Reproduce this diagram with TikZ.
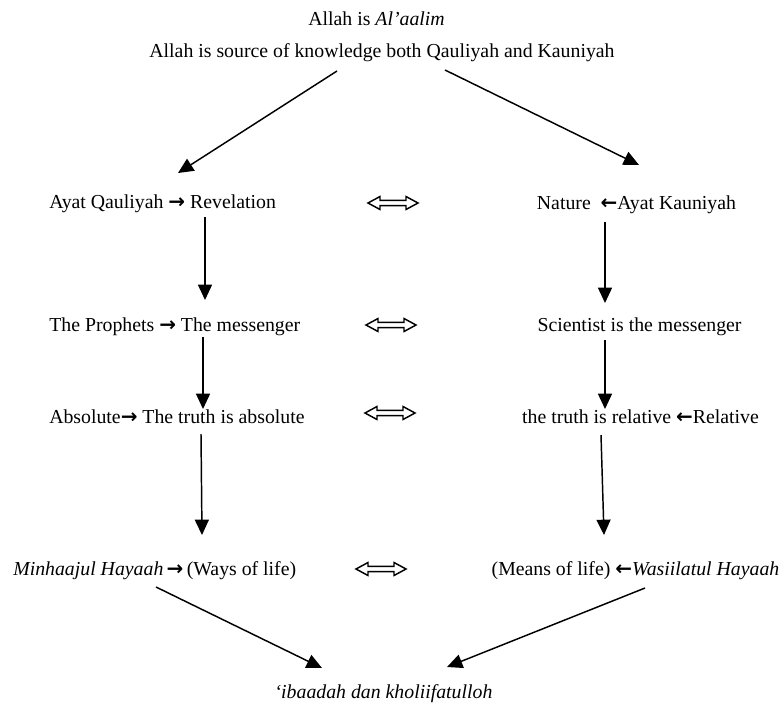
\documentclass[tikz,border=0pt]{standalone}
\usepackage{fontspec}
\setmainfont{Liberation Serif}
\newfontfamily\symfont{DejaVu Sans}
\usetikzlibrary{arrows.meta}
\newcommand{\rarr}{{\symfont\bfseries\fontsize{15}{18}\selectfont →}}
\newcommand{\larr}{{\symfont\bfseries\fontsize{15}{18}\selectfont ←}}
\begin{document}
\begin{tikzpicture}[x=0.75pt,y=-0.75pt,
  lbl/.style={inner sep=0pt, font=\fontsize{14.85}{18}\selectfont},
  arr/.style={line width=1.1pt, -{Triangle[length=11.5pt,width=10.5pt]}},
  dblarrow/.pic={\draw[line width=1.1pt, line join=miter, fill=white]
     (0,0) -- (12,-6.5) -- (12,-2.6) -- (38,-2.6) -- (38,-6.5) -- (50,0)
     -- (38,6.5) -- (38,2.6) -- (12,2.6) -- (12,6.5) -- cycle;}]
\useasboundingbox (0,0) rectangle (784,704);
% texts
\node[lbl, anchor=base] (t1) at (376.5,25) {Allah is \textit{Al’aalim}};
\node[lbl, anchor=base] (t2) at (382,57) {Allah is source of knowledge both Qauliyah and Kauniyah};
\node[lbl, anchor=base west] (ayat) at (49,208) {Ayat Qauliyah \rarr{} Revelation};
\node[lbl, anchor=base] (nature) at (636.5,209) {Nature \ \larr Ayat Kauniyah};
\node[lbl, anchor=base west] (proph) at (49,331) {The Prophets \rarr{} The messenger};
\node[lbl, anchor=base] (scient) at (639.5,331) {Scientist is the messenger};
\node[lbl, anchor=base west] (absol) at (49,423) {Absolute\rarr{} The truth is absolute};
\node[lbl, anchor=base] (relat) at (640.5,423) {the truth is relative \larr Relative};
\node[lbl, anchor=base west] (minh) at (13,575) {\textit{Minhaajul Hayaah}\,\rarr\,(Ways of life)};
\node[lbl, anchor=base] (means) at (635.5,575) {(Means of life) \larr\textit{Wasiilatul Hayaah}};
\node[lbl, anchor=base] (ibad) at (383.5,698) {\textit{‘ibaadah dan kholiifatulloh}};
% connector end points
\coordinate (t2l) at (337,71);   \coordinate (ayatin) at (178,173);
\coordinate (t2r) at (445,70);   \coordinate (naturein) at (639,165);
\coordinate (ayatout) at (205,217);  \coordinate (prophin) at (205,300);
\coordinate (natureout) at (605,222); \coordinate (scientin) at (605,303);
\coordinate (prophout) at (203,337); \coordinate (absolin) at (203,409);
\coordinate (scientout) at (605,340); \coordinate (relatin) at (605,409);
\coordinate (absolout) at (201,434); \coordinate (minhin) at (202,535);
\coordinate (relatout) at (601,435); \coordinate (meansin) at (604,535);
\coordinate (minhout) at (156,587); \coordinate (ibadl) at (322,668);
\coordinate (meansout) at (645,588); \coordinate (ibadr) at (447,667);
% connectors
\draw[arr] (t2l) -- (ayatin);
\draw[arr] (t2r) -- (naturein);
\draw[arr] (ayatout) -- (prophin);
\draw[arr] (natureout) -- (scientin);
\draw[arr] (prophout) -- (absolin);
\draw[arr] (scientout) -- (relatin);
\draw[arr] (absolout) -- (minhin);
\draw[arr] (relatout) -- (meansin);
\draw[arr] (minhout) -- (ibadl);
\draw[arr] (meansout) -- (ibadr);
% double arrows
\pic at (368,203) {dblarrow};
\pic at (366,325) {dblarrow};
\pic at (365,413) {dblarrow};
\pic at (356,569) {dblarrow};
\end{tikzpicture}
\end{document}
